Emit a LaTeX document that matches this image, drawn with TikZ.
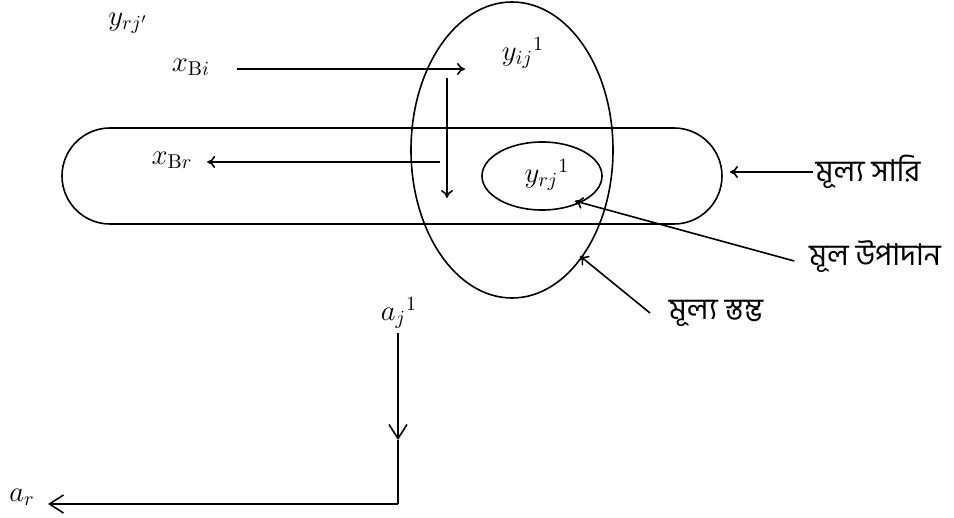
\documentclass[tikz,border=0pt]{standalone}
\usepackage{fontspec}
\newfontfamily\bnfont[Script=Bengali]{Hind Siliguri}
\usetikzlibrary{arrows.meta}

\tikzset{
  lbl/.style={font=\Large, inner sep=1pt},
  bn/.style={font=\fontsize{15}{18}\selectfont\bnfont, inner sep=1pt},
  barb/.style={-{Straight Barb[length=7pt,width=9pt]}}
}

\begin{document}
\begin{tikzpicture}[x=0.5pt, y=-0.5pt, line width=0.8pt, >={To[length=4pt,width=6pt]}]
  \useasboundingbox (0,0) rectangle (954,518);

  % row, column and pivot
  \draw[rounded corners=24pt] (62,128) rectangle (722,224);
  \draw (512,150) ellipse [x radius=101, y radius=148];
  \draw (542,176) ellipse [x radius=60, y radius=34];

  \coordinate (rowpt) at (730,172);
  \coordinate (pivpt) at (575,201);
  \coordinate (colpt) at (580,256);

  % labels
  \node[lbl] (yrjp) at (128,23) {$y_{rj'}$};
  \node[lbl] (xBi) at (191,67) {$x_{\mathrm{B}i}$};
  \node[lbl] (xBr) at (172,160) {$x_{\mathrm{B}r}$};
  \node[lbl] (yij) at (523,53) {$y_{ij}{}^1$};
  \node[lbl] (yrj) at (547,175) {$y_{rj}{}^1$};
  \node[lbl] (aj) at (399,313) {$a_j{}^1$};
  \node[lbl] (ar) at (22,497) {$a_r$};

  \node[bn] (row) at (868,172) {মূল্য সারি};
  \node[bn] (pivot) at (875,257) {মূল উপাদান};
  \node[bn] (col) at (716,313) {মূল্য স্তম্ভ};

  % arrows
  \coordinate (xBitip) at (465,69);
  \coordinate (xBrfrom) at (440,162);
  \coordinate (vtop) at (447,78);
  \coordinate (vbot) at (447,198);
  \draw[->] ([xshift=12]xBi.east |- xBitip) -- (xBitip);
  \draw[->] (xBrfrom) -- ([xshift=6]xBr.east |- xBrfrom);
  \draw[->] (vtop) -- (vbot);

  \draw[->] (row.west) -- (rowpt);
  \draw[->] ([xshift=-6,yshift=-2]pivot.west) -- (pivpt);
  \draw[->] ([xshift=-8,yshift=-8]col.north west) -- (colpt);

  % pivot column step
  \coordinate (ajtop) at (398,333);
  \coordinate (ajmid) at (398,440);
  \coordinate (corner) at (398,504);
  \coordinate (artip) at (48,504);
  \draw[barb] (ajtop) -- (ajmid);
  \draw (ajmid) -- (corner);
  \draw[barb] (corner) -- (artip);
\end{tikzpicture}
\end{document}
